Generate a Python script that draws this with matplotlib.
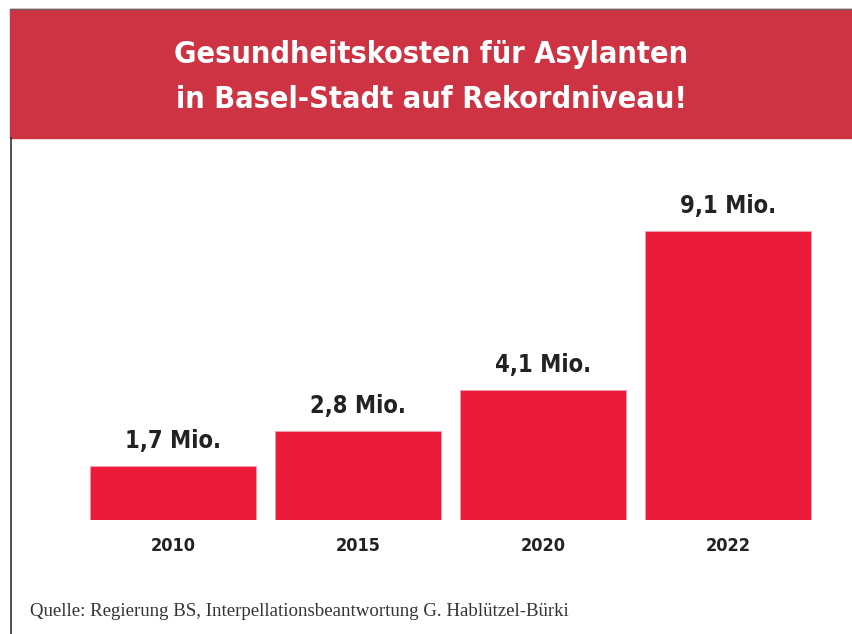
import matplotlib.pyplot as plt
from matplotlib.patches import Rectangle
from matplotlib.lines import Line2D

# Daten
jahre = ['2010', '2015', '2020', '2022']
kosten = [1.7, 2.8, 4.1, 9.1]
labels = ['1,7 Mio.', '2,8 Mio.', '4,1 Mio.', '9,1 Mio.']

titel = 'Gesundheitskosten für Asylanten\nin Basel-Stadt auf Rekordniveau!'
quelle = 'Quelle: Regierung BS, Interpellationsbeantwortung G. Hablützel-Bürki'

rot_kopf = '#cd3343'
rot_balken = '#ed1b3a'
schrift = ['DejaVu Sans']

W, H = 852, 634
fig = plt.figure(figsize=(W / 100, H / 100), dpi=100)

# Kopfbalken
fig.patches.append(Rectangle((10 / W, 1 - 138 / H), 842 / W, 129 / H,
                             transform=fig.transFigure, color=rot_kopf, zorder=0))
fig.lines.append(Line2D([10 / W, 1], [1 - 8.5 / H, 1 - 8.5 / H],
                        transform=fig.transFigure, color='#666666', lw=1))
fig.lines.append(Line2D([10.5 / W, 10.5 / W], [0, 1 - 138 / H],
                        transform=fig.transFigure, color='#333333', lw=1.2))
fig.text(431 / W, 1 - 77 / H, titel, ha='center', va='center', color='white',
         fontsize=22, fontweight='bold', family=schrift, fontstretch='condensed',
         linespacing=1.7)

# Balken
ax = fig.add_axes([70 / W, (H - 520) / H, 760 / W, 340 / H])
x = range(len(jahre))
ax.bar(x, kosten, width=0.897, color=rot_balken, edgecolor='#f6a0ac', linewidth=0.6)
ax.set_xlim(-0.557, 3.549)
ax.set_ylim(0, 340 / 31.8)
for xi, v, lab in zip(x, kosten, labels):
    ax.annotate(lab, (xi, v), xytext=(0, 9), textcoords='offset points',
                ha='center', va='bottom', fontsize=17, fontweight='bold',
                family=schrift, fontstretch='condensed', color='#222222')
ax.set_xticks(list(x))
ax.set_xticklabels(jahre, fontsize=13, fontweight='bold', family=schrift,
                   fontstretch='condensed', color='#222222')
ax.tick_params(axis='x', length=0, pad=12)
ax.set_yticks([])
for s in ax.spines.values():
    s.set_visible(False)

fig.text(30 / W, 1 - 612 / H, quelle, ha='left', va='center', fontsize=13.6,
         family='Liberation Serif', color='#333333')

fig.savefig('out.png', dpi=100)
